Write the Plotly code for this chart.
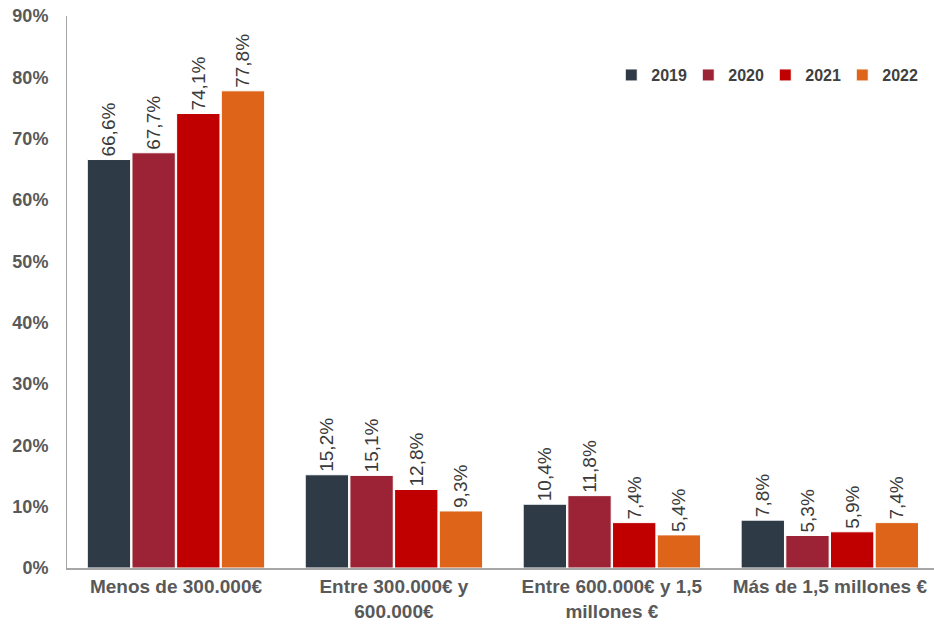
import plotly.graph_objects as go

categories = [
    "Menos de 300.000€",
    "Entre 300.000€ y<br>600.000€",
    "Entre 600.000€ y 1,5<br>millones €",
    "Más de 1,5 millones €",
]
years = ["2019", "2020", "2021", "2022"]
values = {
    "2019": [66.6, 15.2, 10.4, 7.8],
    "2020": [67.7, 15.1, 11.8, 5.3],
    "2021": [74.1, 12.8, 7.4, 5.9],
    "2022": [77.8, 9.3, 5.4, 7.4],
}
colors = {
    "2019": "#2E3A45",
    "2020": "#9B2335",
    "2021": "#C00000",
    "2022": "#DD6418",
}
tick_vals = [0, 10, 20, 30, 40, 50, 60, 70, 80, 90]
tick_text = [f"{v}%" for v in tick_vals]

FONT = "Liberation Sans, Arial"

fig = go.Figure()
for y in years:
    fig.add_trace(go.Bar(
        name=y,
        x=categories,
        y=values[y],
        marker=dict(color=colors[y], line=dict(color="white", width=1)),
        # trailing no-break space keeps the rotated label a little above the bar
        text=[f"{v:.1f}%".replace(".", ",") + "\u00a0" for v in values[y]],
        textposition="outside",
        textangle=-90,
        constraintext="none",
        textfont=dict(family=FONT, size=19, color="#3A3A3A"),
        cliponaxis=False,
    ))

fig.update_layout(
    width=934, height=624,
    margin=dict(l=67, r=0, t=16, b=56),
    paper_bgcolor="white", plot_bgcolor="white",
    barmode="group", bargap=0.18, bargroupgap=0.03,
    font=dict(family=FONT, color="#595959"),
    showlegend=True,
    legend=dict(
        orientation="h", x=0.983, xanchor="right", y=0.893, yanchor="middle",
        font=dict(family=FONT, size=16, color="#404040", weight="bold"),
        itemwidth=30, entrywidth=32, entrywidthmode="pixels",
        traceorder="normal", bgcolor="rgba(0,0,0,0)",
    ),
)
fig.update_xaxes(
    range=[-0.5, 3.478],
    showline=True, linecolor="#A6A6A6", linewidth=2,
    ticks="", showgrid=False,
    tickfont=dict(family=FONT, size=19, color="#595959", weight="bold"),
)
fig.update_yaxes(
    range=[0, 90],
    tickvals=tick_vals, ticktext=tick_text,
    showline=True, linecolor="#A6A6A6", linewidth=1,
    ticks="", showgrid=False, zeroline=False,
    ticklabelstandoff=14,
    tickfont=dict(family=FONT, size=18, color="#595959", weight="bold"),
)

fig.write_html("out.html")
